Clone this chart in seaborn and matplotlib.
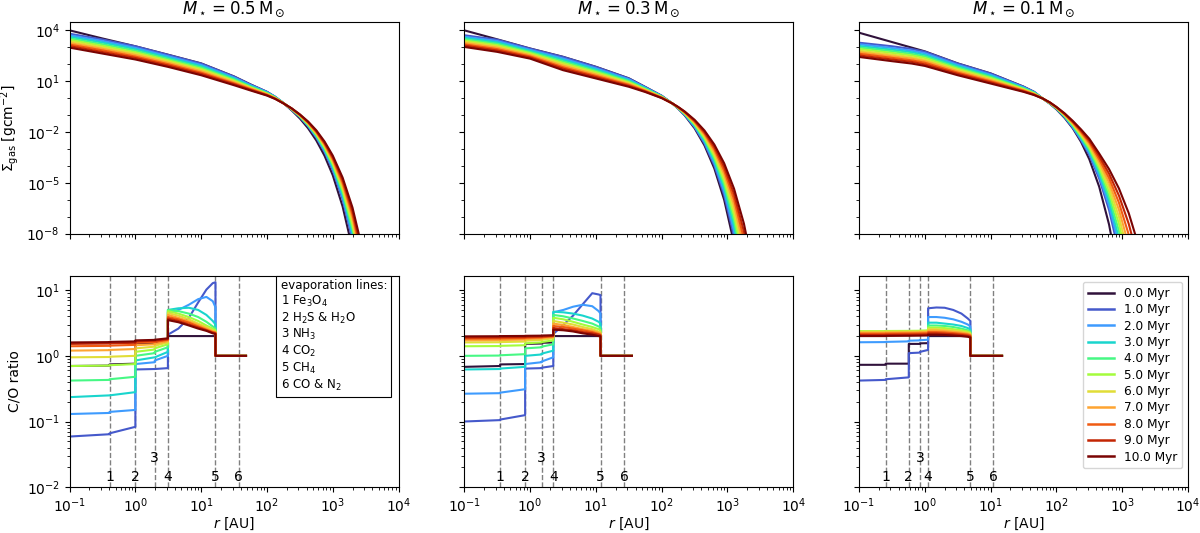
import numpy as np
import pandas as pd
import matplotlib
matplotlib.use("Agg")
import matplotlib.pyplot as plt
from matplotlib.lines import Line2D
from matplotlib.ticker import LogLocator, NullFormatter
import seaborn as sns

# ---------------- data ----------------
TIME_LABELS = ["0.0 Myr", "1.0 Myr", "2.0 Myr", "3.0 Myr", "4.0 Myr", "5.0 Myr",
               "6.0 Myr", "7.0 Myr", "8.0 Myr", "9.0 Myr", "10.0 Myr"]
MASS_TITLES = [r"$M_\star = 0.5\,\mathrm{M}_\odot$",
               r"$M_\star = 0.3\,\mathrm{M}_\odot$",
               r"$M_\star = 0.1\,\mathrm{M}_\odot$"]

# surface density: log10 r [AU] grid and log10 Sigma [g cm^-2] per time
LOGR_05 = [-1, -0.5, 0, 0.5, 1, 1.5, 1.75, 2, 2.125, 2.25, 2.375, 2.5, 2.625, 2.75, 2.875,
           3.0, 3.15, 3.3, 3.45]
LOGSIG_05 = [
    [4.00, 3.52, 3.06, 2.56, 2.05, 1.28, 0.81, 0.37, 0.07, -0.30, -0.72, -1.20, -1.78, -2.50, -3.40, -4.55, -6.40, -8.90, -12.30],
    [3.80, 3.46, 3.06, 2.55, 2.04, 1.27, 0.80, 0.37, 0.08, -0.28, -0.68, -1.12, -1.66, -2.33, -3.17, -4.25, -5.98, -8.35, -11.60],
    [3.71, 3.37, 2.97, 2.47, 1.96, 1.21, 0.76, 0.35, 0.07, -0.28, -0.67, -1.10, -1.63, -2.28, -3.10, -4.15, -5.84, -8.14, -11.30],
    [3.62, 3.28, 2.89, 2.39, 1.89, 1.16, 0.72, 0.32, 0.05, -0.29, -0.66, -1.08, -1.60, -2.23, -3.03, -4.06, -5.69, -7.93, -11.00],
    [3.53, 3.18, 2.80, 2.31, 1.81, 1.10, 0.68, 0.30, 0.04, -0.29, -0.65, -1.07, -1.57, -2.19, -2.97, -3.96, -5.55, -7.72, -10.70],
    [3.44, 3.09, 2.71, 2.23, 1.73, 1.04, 0.64, 0.27, 0.02, -0.29, -0.64, -1.05, -1.54, -2.14, -2.90, -3.87, -5.41, -7.51, -10.40],
    [3.35, 3.00, 2.63, 2.16, 1.66, 0.99, 0.61, 0.25, 0.01, -0.30, -0.64, -1.03, -1.50, -2.09, -2.83, -3.77, -5.26, -7.30, -10.10],
    [3.25, 2.91, 2.54, 2.08, 1.58, 0.93, 0.57, 0.22, -0.01, -0.30, -0.63, -1.01, -1.47, -2.04, -2.76, -3.68, -5.12, -7.09, -9.80],
    [3.16, 2.82, 2.45, 2.00, 1.50, 0.87, 0.53, 0.20, -0.02, -0.30, -0.62, -0.99, -1.44, -1.99, -2.70, -3.58, -4.98, -6.88, -9.50],
    [3.07, 2.72, 2.37, 1.92, 1.43, 0.82, 0.49, 0.17, -0.04, -0.31, -0.61, -0.98, -1.41, -1.95, -2.63, -3.49, -4.83, -6.67, -9.20],
    [2.98, 2.63, 2.28, 1.84, 1.35, 0.76, 0.45, 0.15, -0.05, -0.31, -0.60, -0.96, -1.38, -1.90, -2.56, -3.39, -4.69, -6.46, -8.90],
]

LOGR_03 = [-1, -0.5, 0, 0.5, 1, 1.5, 1.75, 2, 2.16, 2.25, 2.35, 2.5, 2.65, 2.8, 2.95, 3.1, 3.25, 3.4]
LOGSIG_03 = [
    [4.00, 3.47, 2.93, 2.44, 1.85, 1.17, 0.66, 0.14, -0.31, -0.62, -1.02, -1.78, -2.79, -4.15, -6.01, -8.58, -12.15, -17.00],
    [3.71, 3.45, 2.92, 2.43, 1.84, 1.16, 0.65, 0.13, -0.31, -0.61, -0.99, -1.72, -2.68, -3.97, -5.73, -8.16, -11.53, -16.20],
    [3.63, 3.37, 2.85, 2.34, 1.76, 1.11, 0.62, 0.12, -0.31, -0.60, -0.97, -1.67, -2.59, -3.83, -5.52, -7.85, -11.07, -15.54],
    [3.56, 3.29, 2.79, 2.26, 1.69, 1.05, 0.59, 0.10, -0.31, -0.59, -0.95, -1.62, -2.51, -3.70, -5.31, -7.54, -10.61, -14.88],
    [3.48, 3.21, 2.72, 2.17, 1.61, 1.00, 0.55, 0.09, -0.31, -0.58, -0.92, -1.57, -2.42, -3.56, -5.10, -7.22, -10.16, -14.22],
    [3.40, 3.13, 2.66, 2.08, 1.54, 0.94, 0.52, 0.07, -0.31, -0.57, -0.90, -1.52, -2.34, -3.42, -4.89, -6.91, -9.70, -13.56],
    [3.33, 3.05, 2.59, 2.00, 1.46, 0.89, 0.49, 0.06, -0.31, -0.56, -0.88, -1.48, -2.25, -3.29, -4.69, -6.60, -9.24, -12.90],
    [3.25, 2.97, 2.53, 1.91, 1.39, 0.83, 0.46, 0.04, -0.31, -0.55, -0.86, -1.43, -2.17, -3.15, -4.48, -6.29, -8.78, -12.24],
    [3.17, 2.89, 2.46, 1.82, 1.31, 0.78, 0.42, 0.03, -0.31, -0.54, -0.83, -1.38, -2.08, -3.01, -4.27, -5.97, -8.33, -11.58],
    [3.10, 2.81, 2.40, 1.74, 1.24, 0.72, 0.39, 0.01, -0.31, -0.53, -0.81, -1.33, -2.00, -2.88, -4.06, -5.66, -7.87, -10.92],
    [3.02, 2.73, 2.33, 1.65, 1.16, 0.67, 0.36, 0.00, -0.31, -0.52, -0.79, -1.28, -1.91, -2.74, -3.85, -5.35, -7.41, -10.26],
]

LOGR_01 = [-1, -0.5, -0.2, 0, 0.5, 1, 1.5, 1.66, 1.79, 1.9, 2.0, 2.125, 2.25, 2.375, 2.5, 2.65,
           2.8, 2.95, 3.1, 3.25]
LOGSIG_01 = [
    [3.86, 3.31, 2.98, 2.76, 2.05, 1.46, 0.68, 0.37, -0.02, -0.33, -0.66, -1.17, -1.79, -2.59, -3.61, -5.23, -7.46, -10.55, -14.86, -20.00],
    [3.27, 3.06, 2.90, 2.74, 2.04, 1.45, 0.67, 0.37, -0.02, -0.32, -0.63, -1.13, -1.75, -2.50, -3.35, -4.75, -6.60, -9.10, -12.50, -17.00],
    [3.18, 2.96, 2.80, 2.65, 1.96, 1.38, 0.64, 0.35, -0.02, -0.31, -0.62, -1.10, -1.71, -2.43, -3.24, -4.59, -6.33, -8.68, -11.87, -16.08],
    [3.08, 2.86, 2.71, 2.55, 1.89, 1.32, 0.60, 0.33, -0.02, -0.30, -0.61, -1.08, -1.66, -2.36, -3.14, -4.42, -6.06, -8.26, -11.23, -15.16],
    [2.99, 2.77, 2.61, 2.46, 1.81, 1.25, 0.57, 0.31, -0.02, -0.30, -0.59, -1.05, -1.62, -2.28, -3.03, -4.26, -5.80, -7.84, -10.60, -14.24],
    [2.90, 2.67, 2.52, 2.37, 1.73, 1.19, 0.54, 0.29, -0.02, -0.29, -0.58, -1.03, -1.57, -2.21, -2.93, -4.09, -5.53, -7.42, -9.97, -13.32],
    [2.80, 2.57, 2.42, 2.27, 1.66, 1.12, 0.50, 0.26, -0.02, -0.28, -0.57, -1.00, -1.53, -2.14, -2.82, -3.93, -5.26, -7.01, -9.33, -12.40],
    [2.71, 2.47, 2.33, 2.18, 1.58, 1.06, 0.47, 0.24, -0.02, -0.27, -0.56, -0.98, -1.48, -2.07, -2.72, -3.76, -4.99, -6.59, -8.70, -11.48],
    [2.62, 2.38, 2.23, 2.09, 1.50, 0.99, 0.44, 0.22, -0.02, -0.27, -0.54, -0.95, -1.44, -1.99, -2.61, -3.60, -4.72, -6.17, -8.07, -10.56],
    [2.52, 2.28, 2.14, 1.99, 1.43, 0.93, 0.40, 0.20, -0.02, -0.26, -0.53, -0.93, -1.39, -1.92, -2.51, -3.43, -4.46, -5.75, -7.43, -9.64],
    [2.43, 2.18, 2.04, 1.90, 1.35, 0.86, 0.37, 0.18, -0.02, -0.25, -0.52, -0.90, -1.35, -1.85, -2.40, -3.27, -4.19, -5.33, -6.80, -8.72],
]

# C/O ratio: r [AU] (repeated r = jump at an evaporation line) and values per time
R_CO_05 = [0.1, 0.405, 0.405, 1.0, 1.0, 1.97, 1.97, 3.12, 3.12, 4.5, 6.5, 9.0, 12.0, 15.0, 16.5, 16.5, 48.0]
CO_05 = [
    [0.70, 0.71, 0.74, 0.76, 1.55, 1.58, 1.62, 1.65, 2.0, 2.0, 2.0, 2.0, 2.0, 2.0, 2.0, 1.0, 1.0],
    [0.059, 0.064, 0.066, 0.083, 0.62, 0.63, 0.63, 0.65, 2.1, 2.6, 3.8, 6.5, 10.2, 12.8, 13.2, 1.0, 1.0],
    [0.13, 0.135, 0.14, 0.15, 0.75, 0.80, 0.85, 1.0, 4.6, 5.0, 6.0, 7.3, 7.9, 6.8, 5.5, 1.0, 1.0],
    [0.235, 0.25, 0.25, 0.28, 0.85, 0.95, 0.95, 1.15, 5.0, 5.3, 5.4, 5.0, 4.2, 3.4, 3.0, 1.0, 1.0],
    [0.42, 0.43, 0.44, 0.48, 1.0, 1.1, 1.15, 1.35, 5.0, 4.8, 4.4, 3.9, 3.3, 2.8, 2.6, 1.0, 1.0],
    [0.70, 0.71, 0.72, 0.75, 1.15, 1.25, 1.30, 1.50, 4.8, 4.4, 3.9, 3.4, 2.9, 2.6, 2.45, 1.0, 1.0],
    [0.95, 0.96, 0.97, 1.0, 1.30, 1.38, 1.42, 1.60, 4.5, 4.1, 3.6, 3.1, 2.75, 2.45, 2.35, 1.0, 1.0],
    [1.20, 1.22, 1.23, 1.27, 1.45, 1.50, 1.52, 1.68, 4.2, 3.8, 3.35, 2.95, 2.6, 2.35, 2.3, 1.0, 1.0],
    [1.40, 1.42, 1.43, 1.47, 1.58, 1.62, 1.63, 1.75, 3.9, 3.6, 3.2, 2.8, 2.5, 2.3, 2.25, 1.0, 1.0],
    [1.52, 1.54, 1.55, 1.58, 1.66, 1.70, 1.70, 1.80, 3.7, 3.4, 3.0, 2.7, 2.45, 2.25, 2.2, 1.0, 1.0],
    [1.60, 1.62, 1.63, 1.66, 1.72, 1.75, 1.76, 1.85, 3.5, 3.25, 2.9, 2.6, 2.4, 2.2, 2.15, 1.0, 1.0],
]

R_CO_03 = [0.1, 0.35, 0.35, 0.84, 0.84, 1.5, 1.5, 2.25, 2.25, 3.2, 4.5, 6.3, 8.8, 11.0, 11.75, 11.75, 35.3]
CO_03 = [
    [0.68, 0.70, 0.74, 0.75, 1.52, 1.54, 1.58, 1.60, 2.0, 2.0, 2.0, 2.0, 2.0, 2.0, 2.0, 1.0, 1.0],
    [0.10, 0.105, 0.107, 0.125, 0.64, 0.65, 0.66, 0.70, 2.15, 2.95, 4.1, 6.1, 9.0, 8.6, 8.4, 1.0, 1.0],
    [0.265, 0.27, 0.275, 0.31, 0.75, 0.80, 0.82, 0.95, 4.6, 5.0, 5.6, 6.0, 5.7, 4.8, 4.4, 1.0, 1.0],
    [0.62, 0.63, 0.64, 0.68, 1.0, 1.05, 1.08, 1.2, 4.7, 4.6, 4.4, 4.1, 3.7, 3.3, 3.1, 1.0, 1.0],
    [1.0, 1.01, 1.02, 1.06, 1.3, 1.35, 1.38, 1.5, 4.2, 4.0, 3.7, 3.4, 3.1, 2.8, 2.7, 1.0, 1.0],
    [1.4, 1.41, 1.42, 1.45, 1.55, 1.6, 1.62, 1.72, 3.8, 3.6, 3.3, 3.0, 2.75, 2.55, 2.45, 1.0, 1.0],
    [1.6, 1.61, 1.62, 1.65, 1.7, 1.74, 1.76, 1.85, 3.4, 3.2, 3.0, 2.75, 2.55, 2.35, 2.3, 1.0, 1.0],
    [1.72, 1.73, 1.74, 1.77, 1.8, 1.84, 1.86, 1.93, 3.1, 2.95, 2.75, 2.55, 2.4, 2.25, 2.2, 1.0, 1.0],
    [1.82, 1.83, 1.84, 1.86, 1.88, 1.91, 1.92, 1.98, 2.85, 2.75, 2.6, 2.45, 2.3, 2.15, 2.1, 1.0, 1.0],
    [1.9, 1.91, 1.92, 1.93, 1.95, 1.97, 1.98, 2.02, 2.65, 2.55, 2.45, 2.3, 2.2, 2.1, 2.05, 1.0, 1.0],
    [1.98, 1.99, 2.0, 2.01, 2.02, 2.03, 2.04, 2.06, 2.5, 2.45, 2.35, 2.2, 2.1, 2.0, 1.98, 1.0, 1.0],
]

R_CO_01 = [0.1, 0.254, 0.254, 0.57, 0.57, 0.845, 0.845, 1.12, 1.12, 1.5, 2.0, 2.7, 3.6, 4.5, 4.92, 4.92, 14.9]
CO_01 = [
    [0.73, 0.73, 0.76, 0.76, 1.52, 1.52, 1.55, 1.56, 2.0, 2.0, 2.0, 2.0, 2.0, 2.0, 2.0, 1.0, 1.0],
    [0.42, 0.43, 0.44, 0.47, 1.1, 1.12, 1.15, 1.23, 5.3, 5.45, 5.4, 5.0, 4.4, 3.7, 3.4, 1.0, 1.0],
    [1.61, 1.62, 1.63, 1.66, 1.7, 1.72, 1.73, 1.76, 3.9, 3.9, 3.8, 3.6, 3.3, 3.0, 2.8, 1.0, 1.0],
    [2.15, 2.16, 2.17, 2.2, 2.2, 2.22, 2.23, 2.26, 3.2, 3.2, 3.1, 3.0, 2.85, 2.65, 2.5, 1.0, 1.0],
    [2.3, 2.31, 2.32, 2.34, 2.34, 2.36, 2.37, 2.4, 2.9, 2.9, 2.85, 2.75, 2.6, 2.45, 2.35, 1.0, 1.0],
    [2.38, 2.38, 2.39, 2.4, 2.4, 2.41, 2.42, 2.44, 2.7, 2.7, 2.65, 2.55, 2.45, 2.35, 2.25, 1.0, 1.0],
    [2.33, 2.33, 2.34, 2.35, 2.35, 2.36, 2.37, 2.38, 2.55, 2.55, 2.5, 2.42, 2.35, 2.25, 2.18, 1.0, 1.0],
    [2.25, 2.25, 2.26, 2.27, 2.27, 2.28, 2.29, 2.3, 2.42, 2.42, 2.38, 2.32, 2.25, 2.17, 2.1, 1.0, 1.0],
    [2.17, 2.17, 2.18, 2.19, 2.19, 2.2, 2.2, 2.21, 2.3, 2.3, 2.27, 2.22, 2.16, 2.1, 2.04, 1.0, 1.0],
    [2.08, 2.08, 2.09, 2.1, 2.1, 2.11, 2.11, 2.12, 2.2, 2.2, 2.17, 2.13, 2.08, 2.02, 1.97, 1.0, 1.0],
    [2.0, 2.0, 2.01, 2.02, 2.02, 2.03, 2.03, 2.04, 2.1, 2.1, 2.08, 2.04, 2.0, 1.95, 1.9, 1.0, 1.0],
]

# evaporation line positions [AU]
EVAP_05 = [0.405, 1.0, 1.97, 3.12, 16.5, 37.3]
EVAP_03 = [0.35, 0.84, 1.50, 2.25, 11.75, 26.7]
EVAP_01 = [0.254, 0.57, 0.845, 1.12, 4.92, 10.96]
EVAP_LABELS = ["1", "2", "3", "4", "5", "6"]
EVAP_TEXT = ("evaporation lines:\n1 Fe$_3$O$_4$\n2 H$_2$S & H$_2$O\n3 NH$_3$\n"
             "4 CO$_2$\n5 CH$_4$\n6 CO & N$_2$")

# ---------------- plotting ----------------
COLORS = [matplotlib.colormaps["turbo"](v) for v in np.linspace(0, 1, len(TIME_LABELS))]


def long_frame(xs, rows, logged):
    recs = []
    for lab, vals in zip(TIME_LABELS, rows):
        for x, v in zip(xs, vals):
            if logged:
                recs.append((10.0 ** x, 10.0 ** v, lab))
            else:
                recs.append((x, v, lab))
    return pd.DataFrame(recs, columns=["r", "v", "t"])


fig, axes = plt.subplots(2, 3, sharex=True, sharey="row", figsize=(12, 5.33), dpi=100)
fig.subplots_adjust(left=0.058, right=0.99, top=0.958, bottom=0.086, wspace=0.2, hspace=0.2)

for ax in axes.flat:
    ax.set_xscale("log")
    ax.set_yscale("log")

top_sets = [(LOGR_05, LOGSIG_05), (LOGR_03, LOGSIG_03), (LOGR_01, LOGSIG_01)]
bot_sets = [(R_CO_05, CO_05, EVAP_05), (R_CO_03, CO_03, EVAP_03), (R_CO_01, CO_01, EVAP_01)]

for j in range(3):
    ax = axes[0, j]
    df = long_frame(top_sets[j][0], top_sets[j][1], True)
    sns.lineplot(data=df, x="r", y="v", hue="t", hue_order=TIME_LABELS, palette=COLORS,
                 estimator=None, sort=False, linewidth=1.5, legend=False, ax=ax)
    ax.set_title(MASS_TITLES[j], fontsize=12)
    ax.set_xlabel("")
    ax.set_ylabel("")

    ax = axes[1, j]
    xs, rows, evap = bot_sets[j]
    df = long_frame(xs, rows, False)
    sns.lineplot(data=df, x="r", y="v", hue="t", hue_order=TIME_LABELS, palette=COLORS,
                 estimator=None, sort=False, linewidth=1.5, legend=False, ax=ax)
    for xe, lab in zip(evap, EVAP_LABELS):
        ax.axvline(xe, color="gray", ls="--", lw=1.0, zorder=0.5)
        ypos = 0.0275 if lab == "3" else 0.0145
        ax.text(xe, ypos, lab, ha="center", va="center", fontsize=10)
    ax.set_xlabel(r"$r$ [AU]", fontsize=10, labelpad=0)
    ax.set_ylabel("")

axes[0, 0].set_yticks([1e4, 1e1, 1e-2, 1e-5, 1e-8])
axes[0, 0].yaxis.set_minor_locator(LogLocator(base=10, subs=[1.0], numticks=30))
axes[0, 0].yaxis.set_minor_formatter(NullFormatter())
axes[0, 0].set_ylim(1e-8, 10 ** 4.47)
axes[1, 0].set_yticks([1e-2, 1e-1, 1e0, 1e1])
axes[1, 0].set_ylim(1e-2, 16.5)
axes[0, 0].set_xticks([1e-1, 1e0, 1e1, 1e2, 1e3, 1e4])
axes[0, 0].set_xlim(1e-1, 1e4)

axes[0, 0].set_ylabel(r"$\Sigma_\mathrm{gas}$ [gcm$^{-2}$]", fontsize=10)
axes[1, 0].set_ylabel("C/O ratio", fontsize=10)

for ax in axes.flat:
    ax.tick_params(labelsize=10)

axes[1, 0].text(0.965, 0.985, EVAP_TEXT, transform=axes[1, 0].transAxes, ha="right",
                multialignment="left", va="top", fontsize=8.5, linespacing=1.15,
                bbox=dict(boxstyle="square,pad=0.35", fc="white", ec="black", lw=0.8))

handles = [Line2D([0], [0], color=c, lw=1.8) for c in COLORS]
axes[1, 2].legend(handles, TIME_LABELS, loc="upper right", fontsize=8.7, labelspacing=0.28,
                  handlelength=2.2, borderaxespad=0.5)

fig.savefig("out.png", dpi=100)
